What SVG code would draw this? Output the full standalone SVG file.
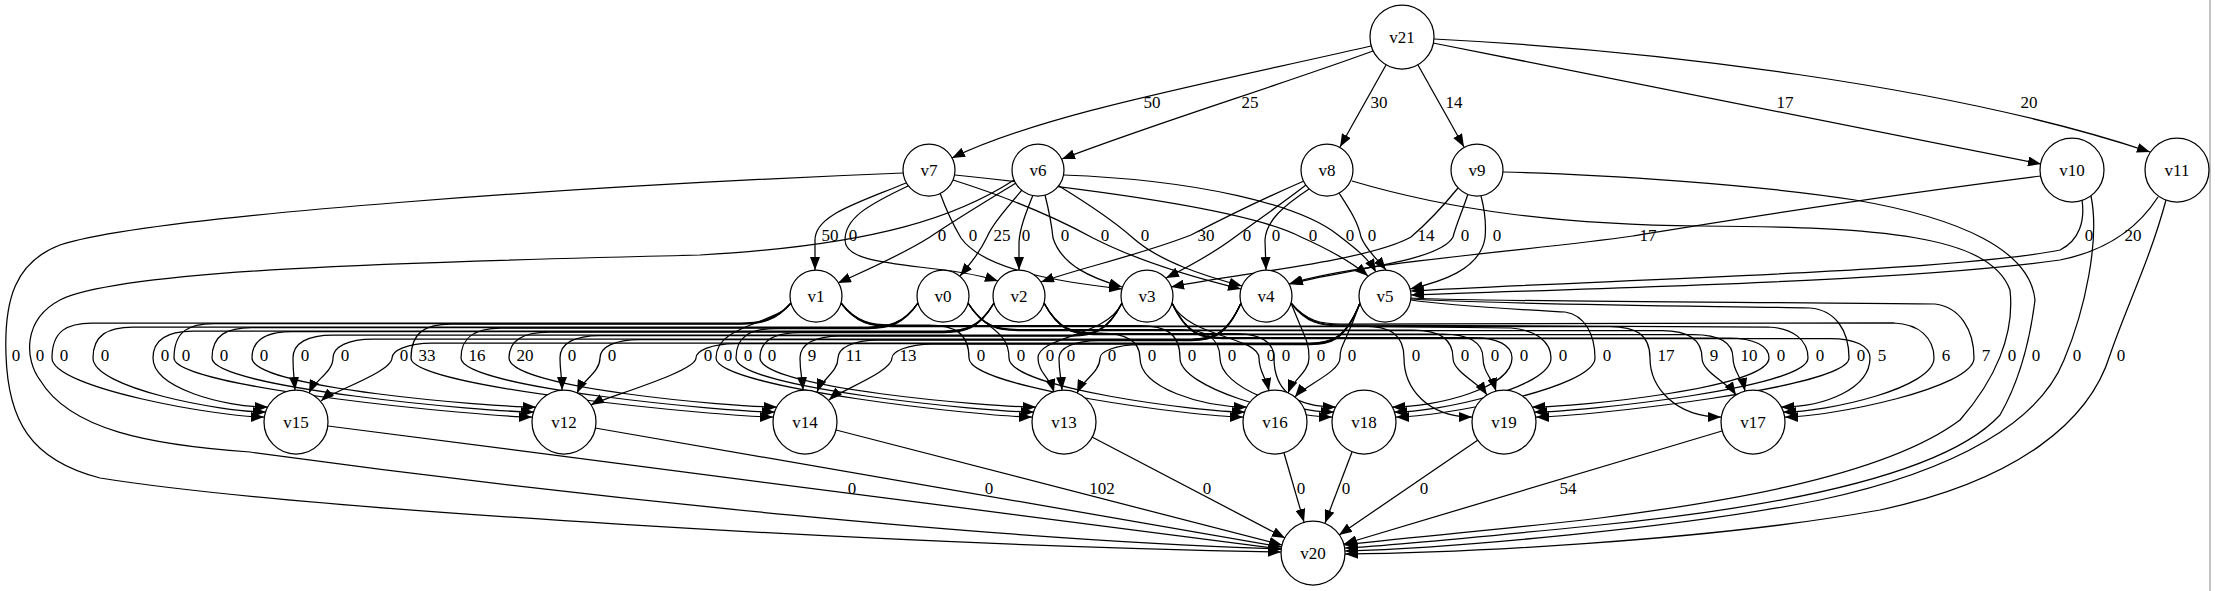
<svg xmlns="http://www.w3.org/2000/svg" width="2215" height="591" viewBox="0 0 2215 591" font-family="'Liberation Serif', 'Times New Roman', serif" font-size="17">
<style>
.e{fill:none;stroke:#000;stroke-width:1.25;marker-end:url(#ah)}
.n circle{fill:#fff;stroke:#000;stroke-width:1.25}
text{font-family:'Liberation Serif','Times New Roman',serif;font-size:17px;fill:#000;text-anchor:middle}
</style>
<defs>
<marker id="ah" markerUnits="userSpaceOnUse" markerWidth="13" markerHeight="10" refX="13" refY="5" orient="auto" viewBox="0 0 13 10"><path d="M0,0 L13,5 L0,10 z" fill="#000"/></marker>
</defs>
<rect width="2215" height="591" fill="#fff"/>
<line x1="2210" y1="0" x2="2210" y2="591" stroke="#888" stroke-width="1"/>
<g id="connectors">
<path class="e" d="M1371,46 C1200,85 1040,115 952,158"/>
<path class="e" d="M1373,51 C1280,85 1150,125 1062,159"/>
<path class="e" d="M1386,65 L1340,147"/>
<path class="e" d="M1418,65 L1464,147"/>
<path class="e" d="M1433,43 L2041,164"/>
<path class="e" d="M1434,39 C1650,50 1950,85 2150,152"/>
<path class="e" d="M906,183 C858,203 815,215 815,240 L815,270"/>
<path class="e" d="M908,186 C868,205 845,218 845,240 C845,270 940,262 998,281"/>
<path class="e" d="M1016,183 C980,205 955,220 930,237 C900,256 862,272 838,283"/>
<path class="e" d="M940,193 C948,215 955,228 961,238 C985,272 1070,283 1122,289"/>
<path class="e" d="M1022,190 C1005,210 992,225 987,237 C980,252 970,264 960,276"/>
<path class="e" d="M1033,195 C1025,215 1020,228 1019,242 L1019,270"/>
<path class="e" d="M1045,195 C1050,215 1052,228 1053,238 C1062,266 1092,278 1122,287"/>
<path class="e" d="M953,180 C1010,198 1060,220 1093,238 C1140,262 1200,279 1241,289"/>
<path class="e" d="M1059,186 C1090,205 1115,222 1133,238 C1160,262 1205,276 1242,286"/>
<path class="e" d="M1304,181 C1260,200 1220,220 1191,235 C1140,255 1080,268 1041,282"/>
<path class="e" d="M1306,185 C1280,205 1255,222 1235,237 C1215,252 1190,266 1166,278"/>
<path class="e" d="M1309,189 C1285,205 1266,220 1265,240 L1266,270"/>
<path class="e" d="M955,175 C1100,190 1250,210 1301,237 C1330,250 1352,262 1368,276"/>
<path class="e" d="M1063,175 C1200,180 1300,205 1338,235 C1355,248 1368,258 1376,272"/>
<path class="e" d="M1339,193 C1350,210 1358,222 1361,237 C1366,250 1378,260 1386,270"/>
<path class="e" d="M1458,188 C1440,210 1425,225 1411,237 C1370,260 1250,272 1171,287"/>
<path class="e" d="M1468,194 C1462,212 1456,225 1453,237 C1440,262 1340,270 1290,284"/>
<path class="e" d="M1481,196 C1486,215 1486,228 1485,238 C1480,270 1440,282 1410,289"/>
<path class="e" d="M2041,176 C1850,200 1700,225 1633,236 C1520,252 1360,262 1289,284"/>
<path class="e" d="M2082,200 C2085,220 2080,240 2060,250 C1950,272 1600,280 1411,291"/>
<path class="e" d="M2158,197 C2140,225 2110,250 2060,260 C1900,282 1600,288 1411,295"/>
<path class="e" d="M903,173 C600,185 150,215 60,245 C15,262 4,300 6,355 C8,420 30,460 100,478 C300,510 900,545 1281,552"/>
<path class="e" d="M1014,180 C960,215 880,245 700,255 C400,262 120,270 60,300 C22,320 25,360 40,380 C70,430 150,445 250,452 C600,500 1000,540 1282,549"/>
<path class="e" d="M1352,181 C1450,210 1560,225 1700,226 C1880,227 1990,235 2010,290 C2015,335 1995,380 1960,420 C1880,480 1700,505 1600,518 C1500,530 1400,538 1344,545"/>
<path class="e" d="M1503,172 C1600,174 1760,185 1855,200 C1960,218 2030,250 2035,300 C2030,340 2020,380 2000,415 C1940,480 1750,510 1600,525 C1500,535 1400,545 1345,548"/>
<path class="e" d="M2091,196 C2100,240 2085,310 2064,360 C2040,420 1960,470 1820,500 C1680,528 1450,548 1345,551"/>
<path class="e" d="M2166,200 C2150,260 2125,310 2110,355 C2090,420 2020,480 1880,510 C1700,542 1450,553 1345,554"/>
<path class="e" d="M791,303 C776,320 761,323 741,323 L92,323 C67,323 52,331 52,358 C52,388 219,417 264,417"/>
<path class="e" d="M918,303 C903,324 888,327 868,327 L133,327 C108,327 93,335 93,358 C93,388 221,412 266,412"/>
<path class="e" d="M994,303 C979,328 964,331 944,331 L193,331 C168,331 153,339 153,358 C153,388 223,407 268,407"/>
<path class="e" d="M1122,303 C1107,332 1092,335 1072,335 L333,335 C308,335 293,343 293,358 C293,372 294,376 295,390"/>
<path class="e" d="M1241,303 C1226,336 1211,339 1191,339 L373,339 C348,339 333,347 333,358 C333,372 315,380 309,393"/>
<path class="e" d="M1360,303 C1345,340 1330,343 1310,343 L432,343 C407,343 392,351 392,358 C392,372 331,392 321,401"/>
<path class="e" d="M791,303 C776,320 761,323.5 741,323.5 L214,323.5 C189,323.5 174,331 174,358 C174,388 487,417 532,417"/>
<path class="e" d="M918,303 C903,324 888,327.5 868,327.5 L252,327.5 C227,327.5 212,335 212,358 C212,388 489,412 534,412"/>
<path class="e" d="M994,303 C979,328 964,331.5 944,331.5 L292,331.5 C267,331.5 252,339 252,358 C252,388 491,407 536,407"/>
<path class="e" d="M1122,303 C1107,332 1092,335.5 1072,335.5 L600,335.5 C575,335.5 560,343 560,358 C560,372 562,376 562,390"/>
<path class="e" d="M1241,303 C1226,336 1211,339.5 1191,339.5 L640,339.5 C615,339.5 600,347 600,358 C600,372 583,380 577,393"/>
<path class="e" d="M1360,303 C1345,340 1330,343.5 1310,343.5 L736,343.5 C711,343.5 696,351 696,358 C696,372 603,398 591,405"/>
<path class="e" d="M791,303 C776,321 761,324 741,324 L451,324 C426,324 411,332 411,358 C411,388 728,417 773,417"/>
<path class="e" d="M918,303 C903,325 888,328 868,328 L501,328 C476,328 461,336 461,358 C461,388 730,412 775,412"/>
<path class="e" d="M994,303 C979,329 964,332 944,332 L549,332 C524,332 509,340 509,358 C509,388 732,407 777,407"/>
<path class="e" d="M1122,303 C1107,333 1092,336 1072,336 L840,336 C815,336 800,344 800,358 C800,372 802,376 803,390"/>
<path class="e" d="M1241,303 C1226,337 1211,340 1191,340 L878,340 C853,340 838,348 838,358 C838,372 822,379 817,392"/>
<path class="e" d="M1360,303 C1345,341 1330,344 1310,344 L932,344 C907,344 892,352 892,358 C892,372 839,391 829,400"/>
<path class="e" d="M791,303 C776,324.5 716,324.5 716,358 C716,388 987,417 1032,417"/>
<path class="e" d="M918,303 C903,325.5 888,328.5 868,328.5 L776,328.5 C751,328.5 736,336 736,358 C736,388 988,412 1034,412"/>
<path class="e" d="M994,303 C979,329.5 964,332.5 944,332.5 L800,332.5 C775,332.5 760,340 760,358 C760,388 991,407 1036,407"/>
<path class="e" d="M1122,303 C1107,336.5 1038,336.5 1038,358 C1038,372 1050,378 1054,392"/>
<path class="e" d="M1241,303 C1226,337.5 1211,340.5 1191,340.5 L1099,340.5 C1074,340.5 1059,348 1059,358 C1059,372 1061,376 1062,390"/>
<path class="e" d="M1360,303 C1345,341.5 1330,344.5 1310,344.5 L1140,344.5 C1115,344.5 1100,352 1100,358 C1100,372 1083,380 1077,393"/>
<path class="e" d="M841,303 C856,322 871,325 891,325 L929,325 C954,325 969,333 969,358 C969,388 1198,417 1243,417"/>
<path class="e" d="M968,303 C983,329 1009,329 1009,358 C1009,388 1200,412 1245,412"/>
<path class="e" d="M1044,303 C1059,330 1074,333 1094,333 L1100,333 C1125,333 1140,341 1140,358 C1140,388 1202,407 1247,407"/>
<path class="e" d="M1172,303 C1187,337 1259,337 1259,358 C1259,372 1266,377 1269,391"/>
<path class="e" d="M1291,303 C1306,341 1309,341 1309,358 C1309,372 1293,380 1288,393"/>
<path class="e" d="M1360,303 C1345,345 1340,345 1340,358 C1340,372 1304,386 1295,397"/>
<path class="e" d="M841,303 C856,322.5 871,325.5 891,325.5 L1140,325.5 C1165,325.5 1180,333 1180,358 C1180,388 1287,417 1332,417"/>
<path class="e" d="M968,303 C983,326.5 998,329.5 1018,329.5 L1180,329.5 C1205,329.5 1220,337 1220,358 C1220,388 1289,412 1334,412"/>
<path class="e" d="M1044,303 C1059,330.5 1074,333.5 1094,333.5 L1234,333.5 C1259,333.5 1274,341 1274,358 C1274,388 1291,407 1336,407"/>
<path class="e" d="M1172,303 C1187,334.5 1202,337.5 1222,337.5 L1472,337.5 C1497,337.5 1512,345 1512,358 C1512,388 1437,407 1392,407"/>
<path class="e" d="M1291,303 C1306,323 1321,326 1341,326 L1511,328 C1536,330 1551,342 1551,358 C1551,388 1439,412 1394,412"/>
<path class="e" d="M1411,300 C1450,306 1530,310 1565,312 C1585,315 1595,335 1595,358 C1595,388 1441,417 1396,417"/>
<path class="e" d="M841,303 C856,323 871,326 891,326 L1364,326 C1389,326 1404,334 1404,358 C1404,388 1427,417 1472,417"/>
<path class="e" d="M968,303 C983,327 998,330 1018,330 L1413,330 C1438,330 1453,338 1453,358 C1453,372 1479,383 1487,395"/>
<path class="e" d="M1044,303 C1059,331 1074,334 1094,334 L1443,334 C1468,334 1483,342 1483,358 C1483,372 1492,378 1496,391"/>
<path class="e" d="M1172,303 C1187,335 1202,338 1222,338 L1729,338 C1754,338 1769,346 1769,358 C1769,388 1577,407 1532,407"/>
<path class="e" d="M1291,303 C1306,322 1321,325 1341,325 L1768,327 C1793,328 1808,340 1808,358 C1808,388 1579,412 1534,412"/>
<path class="e" d="M1411,299 C1480,304 1700,306 1810,308 C1835,310 1849,330 1849,358 C1849,388 1581,417 1536,417"/>
<path class="e" d="M841,303 C856,323.5 871,326.5 891,326.5 L1610,326.5 C1635,326.5 1650,334 1650,358 C1650,388 1676,417 1721,417"/>
<path class="e" d="M968,303 C983,327.5 998,330.5 1018,330.5 L1662,330.5 C1687,330.5 1702,338 1702,358 C1702,372 1728,383 1736,395"/>
<path class="e" d="M1044,303 C1059,331.5 1074,334.5 1094,334.5 L1693,334.5 C1718,334.5 1733,342 1733,358 C1733,372 1742,377 1745,391"/>
<path class="e" d="M1172,303 C1187,335.5 1202,338.5 1222,338.5 L1830,338.5 C1855,338.5 1870,346 1870,358 C1870,388 1826,407 1781,407"/>
<path class="e" d="M1291,303 C1306,321 1321,324 1341,324 L1894,323 C1919,324 1934,338 1934,358 C1934,388 1828,412 1783,412"/>
<path class="e" d="M1411,298 C1480,302 1800,302 1935,304 C1960,307 1974,330 1974,358 C1974,388 1830,417 1785,417"/>
<path class="e" d="M328,426 L1281,549"/>
<path class="e" d="M595,428 L1282,547"/>
<path class="e" d="M836,430 L1282,545"/>
<path class="e" d="M1092,437 L1285,538"/>
<path class="e" d="M1284,453 L1304,522"/>
<path class="e" d="M1352,452 L1325,523"/>
<path class="e" d="M1478,440 L1339,535"/>
<path class="e" d="M1722,431 L1344,544"/>
</g>
<g id="edge-labels" text-anchor="middle">
<text x="1152" y="108">50</text><text x="1250" y="108">25</text><text x="1379" y="108">30</text><text x="1454" y="108">14</text><text x="1785" y="108">17</text><text x="2029" y="108">20</text>
<text x="830" y="241">50</text><text x="853" y="241">0</text><text x="942" y="241">0</text><text x="973" y="241">0</text><text x="1002" y="241">25</text><text x="1026" y="241">0</text><text x="1065" y="241">0</text><text x="1105" y="241">0</text><text x="1145" y="241">0</text><text x="1206" y="241">30</text><text x="1247" y="241">0</text><text x="1276" y="241">0</text><text x="1313" y="241">0</text><text x="1350" y="241">0</text><text x="1372" y="241">0</text><text x="1426" y="241">14</text><text x="1465" y="241">0</text><text x="1497" y="241">0</text><text x="1648" y="241">17</text><text x="2089" y="241">0</text><text x="2133" y="241">20</text>
<text x="16" y="361">0</text><text x="40" y="361">0</text>
<text x="64" y="361">0</text><text x="105" y="361">0</text><text x="165" y="361">0</text><text x="186" y="361">0</text><text x="224" y="361">0</text><text x="264" y="361">0</text><text x="305" y="361">0</text><text x="345" y="361">0</text><text x="404" y="361">0</text>
<text x="427" y="361">33</text><text x="477" y="361">16</text><text x="525" y="361">20</text><text x="572" y="361">0</text><text x="612" y="361">0</text><text x="708" y="361">0</text><text x="728" y="361">0</text><text x="748" y="361">0</text><text x="772" y="361">0</text>
<text x="812" y="361">9</text><text x="854" y="361">11</text><text x="908" y="361">13</text><text x="981" y="361">0</text><text x="1021" y="361">0</text><text x="1050" y="361">0</text><text x="1071" y="361">0</text><text x="1112" y="361">0</text><text x="1152" y="361">0</text>
<text x="1192" y="361">0</text><text x="1232" y="361">0</text><text x="1271" y="361">0</text><text x="1286" y="361">0</text><text x="1321" y="361">0</text><text x="1352" y="361">0</text><text x="1416" y="361">0</text><text x="1465" y="361">0</text><text x="1495" y="361">0</text>
<text x="1524" y="361">0</text><text x="1563" y="361">0</text><text x="1607" y="361">0</text><text x="1666" y="361">17</text><text x="1714" y="361">9</text><text x="1749" y="361">10</text><text x="1781" y="361">0</text><text x="1820" y="361">0</text><text x="1861" y="361">0</text>
<text x="1882" y="361">5</text><text x="1946" y="361">6</text><text x="1986" y="361">7</text><text x="2012" y="361">0</text><text x="2036" y="361">0</text><text x="2077" y="361">0</text><text x="2121" y="361">0</text>
<text x="852" y="494">0</text><text x="989" y="494">0</text><text x="1102" y="494">102</text><text x="1207" y="494">0</text><text x="1301" y="494">0</text><text x="1346" y="494">0</text><text x="1424" y="494">0</text><text x="1568" y="494">54</text>
</g>
<g id="v21" class="n"><circle cx="1402" cy="37" r="32"/><text x="1402" y="43">v21</text></g>
<g id="v7" class="n"><circle cx="929" cy="170" r="26"/><text x="929" y="176">v7</text></g>
<g id="v6" class="n"><circle cx="1038" cy="170" r="26"/><text x="1038" y="176">v6</text></g>
<g id="v8" class="n"><circle cx="1327" cy="170" r="26"/><text x="1327" y="176">v8</text></g>
<g id="v9" class="n"><circle cx="1477" cy="170" r="26"/><text x="1477" y="176">v9</text></g>
<g id="v10" class="n"><circle cx="2072" cy="170" r="32"/><text x="2072" y="176">v10</text></g>
<g id="v11" class="n"><circle cx="2177" cy="170" r="32"/><text x="2177" y="176">v11</text></g>
<g id="v1" class="n"><circle cx="816" cy="296" r="26"/><text x="816" y="302">v1</text></g>
<g id="v0" class="n"><circle cx="943" cy="296" r="26"/><text x="943" y="302">v0</text></g>
<g id="v2" class="n"><circle cx="1019" cy="296" r="26"/><text x="1019" y="302">v2</text></g>
<g id="v3" class="n"><circle cx="1147" cy="296" r="26"/><text x="1147" y="302">v3</text></g>
<g id="v4" class="n"><circle cx="1266" cy="296" r="26"/><text x="1266" y="302">v4</text></g>
<g id="v5" class="n"><circle cx="1385" cy="296" r="26"/><text x="1385" y="302">v5</text></g>
<g id="v15" class="n"><circle cx="296" cy="422" r="32"/><text x="296" y="428">v15</text></g>
<g id="v12" class="n"><circle cx="564" cy="422" r="32"/><text x="564" y="428">v12</text></g>
<g id="v14" class="n"><circle cx="805" cy="422" r="32"/><text x="805" y="428">v14</text></g>
<g id="v13" class="n"><circle cx="1064" cy="422" r="32"/><text x="1064" y="428">v13</text></g>
<g id="v16" class="n"><circle cx="1275" cy="422" r="32"/><text x="1275" y="428">v16</text></g>
<g id="v18" class="n"><circle cx="1364" cy="422" r="32"/><text x="1364" y="428">v18</text></g>
<g id="v19" class="n"><circle cx="1504" cy="422" r="32"/><text x="1504" y="428">v19</text></g>
<g id="v17" class="n"><circle cx="1753" cy="422" r="32"/><text x="1753" y="428">v17</text></g>
<g id="v20" class="n"><circle cx="1313" cy="553" r="32"/><text x="1313" y="559">v20</text></g>
</svg>
